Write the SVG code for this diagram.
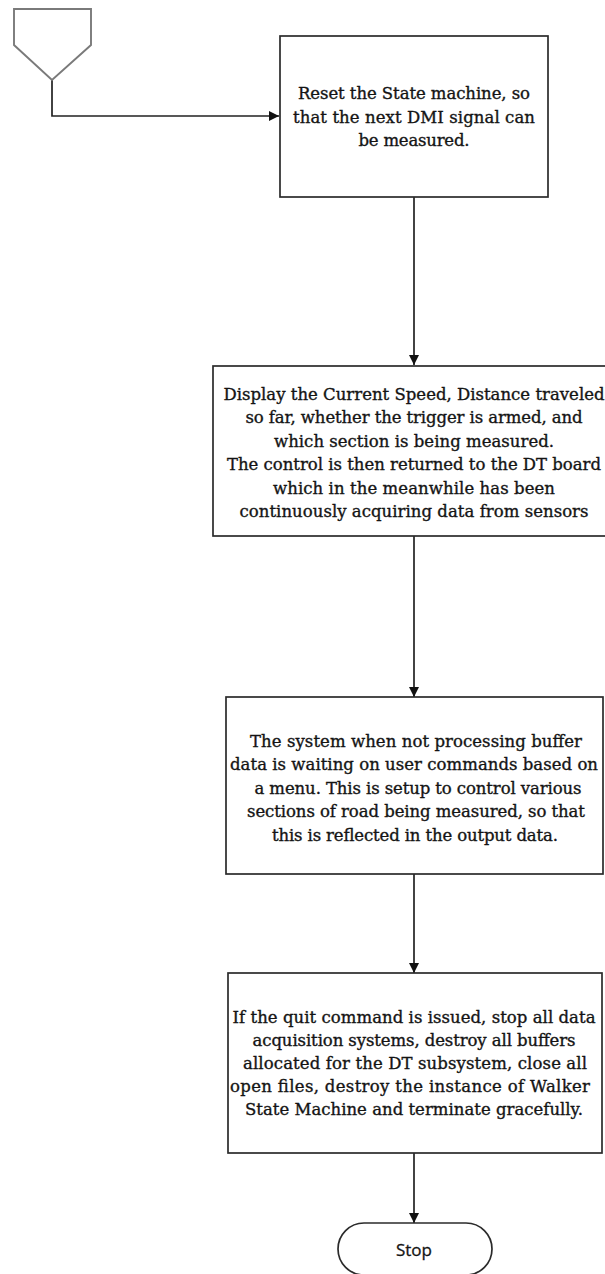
<svg xmlns="http://www.w3.org/2000/svg" width="605" height="1274" viewBox="0 0 605 1274">
  <style>
    .box { fill: #ffffff; stroke: #2b2b2b; stroke-width: 1.7; }
    .off { fill: #ffffff; stroke: #7a7a7a; stroke-width: 1.9; stroke-linejoin: miter; }
    .edge { fill: none; stroke: #222222; stroke-width: 1.7; }
    .lbl { font-family: "DejaVu Serif", "Liberation Serif", serif; font-size: 16.5px; fill: #141414; stroke: #141414; stroke-width: 0.35; text-anchor: middle; }
    .term { font-family: "Open Sans", "Liberation Sans", sans-serif; font-size: 17px; fill: #141414; stroke: #141414; stroke-width: 0.3; text-anchor: middle; }
  </style>
  <defs>
    <marker id="arrow" viewBox="0 0 10 10" refX="10" refY="5" markerWidth="10" markerHeight="10" markerUnits="userSpaceOnUse" orient="auto">
      <path d="M0,0 L10,5 L0,10 z" fill="#111111"/>
    </marker>
  </defs>

  <rect width="605" height="1274" fill="#ffffff"/>

  <!-- connectors -->
  <g id="connectors">
    <polyline class="edge" points="52,80 52,116 279,116" marker-end="url(#arrow)"/>
    <line class="edge" x1="414" y1="197" x2="414" y2="365" marker-end="url(#arrow)"/>
    <line class="edge" x1="414" y1="536" x2="414" y2="697" marker-end="url(#arrow)"/>
    <line class="edge" x1="414" y1="874" x2="414" y2="973" marker-end="url(#arrow)"/>
    <line class="edge" x1="414" y1="1153" x2="414" y2="1223" marker-end="url(#arrow)"/>
  </g>

  <!-- off-page connector -->
  <g id="offpage">
    <polygon class="off" points="14,9 91,9 91,45 52,80 14,45"/>
  </g>

  <g id="reset">
    <rect class="box" x="280" y="36" width="268" height="161"/>
    <text class="lbl" x="414" y="99" textLength="232">Reset the State machine, so</text>
    <text class="lbl" x="414" y="122.5" textLength="242">that the next DMI signal can</text>
    <text class="lbl" x="414" y="146" textLength="111">be measured.</text>
  </g>

  <g id="display">
    <rect class="box" x="213" y="366" width="402" height="170"/>
    <text class="lbl" x="414" y="399.5" textLength="381">Display the Current Speed, Distance traveled</text>
    <text class="lbl" x="414" y="423" textLength="337">so far, whether the trigger is armed, and</text>
    <text class="lbl" x="414" y="446.5" textLength="280">which section is being measured.</text>
    <text class="lbl" x="414" y="470" textLength="374">The control is then returned to the DT board</text>
    <text class="lbl" x="414" y="493.5" textLength="282">which in the meanwhile has been</text>
    <text class="lbl" x="414" y="517" textLength="349">continuously acquiring data from sensors</text>
  </g>

  <g id="menu">
    <rect class="box" x="226" y="697" width="377" height="177"/>
    <text class="lbl" x="416" y="746.5" textLength="332">The system when not processing buffer</text>
    <text class="lbl" x="414" y="770" textLength="368">data is waiting on user commands based on</text>
    <text class="lbl" x="418" y="793.5" textLength="327">a menu. This is setup to control various</text>
    <text class="lbl" x="416" y="817" textLength="338">sections of road being measured, so that</text>
    <text class="lbl" x="415" y="840.5" textLength="286">this is reflected in the output data.</text>
  </g>

  <g id="quit">
    <rect class="box" x="228" y="973" width="374" height="180"/>
    <text class="lbl" x="414" y="1023" textLength="363">If the quit command is issued, stop all data</text>
    <text class="lbl" x="414" y="1046" textLength="323">acquisition systems, destroy all buffers</text>
    <text class="lbl" x="415" y="1069" textLength="344">allocated for the DT subsystem, close all</text>
    <text class="lbl" x="410" y="1092" textLength="360">open files, destroy the instance of Walker</text>
    <text class="lbl" x="414" y="1115" textLength="338">State Machine and terminate gracefully.</text>
  </g>

  <g id="stop">
    <rect class="box" x="338" y="1223" width="154" height="52" rx="26" ry="26"/>
    <text class="term" x="414" y="1256">Stop</text>
  </g>
</svg>
